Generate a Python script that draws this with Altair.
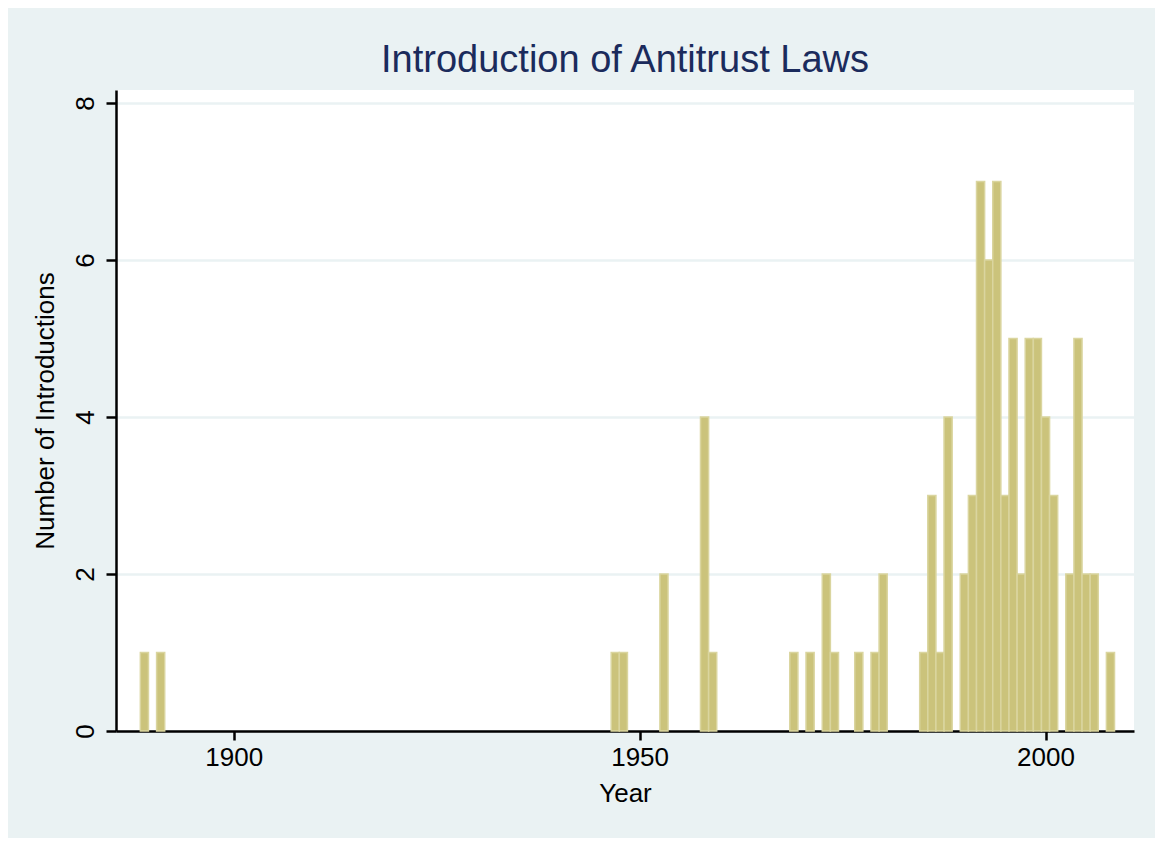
import altair as alt
import pandas as pd

years = [1889, 1891, 1947, 1948, 1953, 1958, 1959, 1969, 1971, 1973, 1974, 1977,
         1979, 1980, 1985, 1986, 1987, 1988, 1990, 1991, 1992, 1993, 1994, 1995,
         1996, 1997, 1998, 1999, 2000, 2001, 2003, 2004, 2005, 2006, 2008]
counts = [1, 1, 1, 1, 2, 4, 1, 1, 1, 2, 1, 1,
          1, 2, 1, 3, 1, 4, 2, 3, 7, 6, 7, 3,
          5, 2, 5, 5, 4, 3, 2, 5, 2, 2, 1]

x_ticks = [1900, 1950, 2000]
y_ticks = [0, 2, 4, 6, 8]

df = pd.DataFrame({"year": years, "count": counts})

FONT = "Liberation Sans"
BG = "#EAF2F3"

bars = alt.Chart(df).transform_calculate(
    x0="datum.year - 0.5", x1="datum.year + 0.5"
).mark_rect(
    fill="#CBC37B", stroke="#DAD59F", strokeWidth=1.5
).encode(
    x=alt.X("x0:Q",
            scale=alt.Scale(domain=[1885.5, 2010.9], nice=False, zero=False),
            axis=alt.Axis(values=x_ticks, title="Year", format="d", grid=False,
                          domainColor="black", domainWidth=2.5,
                          tickColor="black", tickWidth=2.5, tickSize=9,
                          labelFont=FONT, labelFontSize=26, labelColor="black",
                          labelPadding=4,
                          titleFont=FONT, titleFontSize=26, titleFontWeight="normal",
                          titleColor="black", titlePadding=10)),
    x2="x1:Q",
    y=alt.Y("count:Q",
            scale=alt.Scale(domain=[0, 8.166], nice=False),
            axis=alt.Axis(values=y_ticks, title="Number of Introductions",
                          grid=True, gridColor=BG, gridWidth=2.5,
                          domainColor="black", domainWidth=2.5,
                          tickColor="black", tickWidth=2.5, tickSize=10,
                          labelAngle=270, labelAlign="center", labelBaseline="bottom",
                          labelFont=FONT, labelFontSize=26, labelColor="black",
                          labelPadding=8,
                          titleFont=FONT, titleFontSize=26, titleFontWeight="normal",
                          titleColor="black", titlePadding=14)),
    y2=alt.datum(0),
)

chart = bars.properties(
    width=1018,
    height=641,
    title=alt.TitleParams("Introduction of Antitrust Laws", font=FONT, fontSize=38,
                          fontWeight="normal", color="#1B2B5C", anchor="middle",
                          offset=10),
    background=BG,
    padding={"left": 108, "top": 82, "right": 21, "bottom": 107},
    autosize=alt.AutoSizeParams(type="none"),
).configure_view(fill="white", stroke=None)

chart.save("out.html", embed_options={"renderer": "svg", "actions": False})
